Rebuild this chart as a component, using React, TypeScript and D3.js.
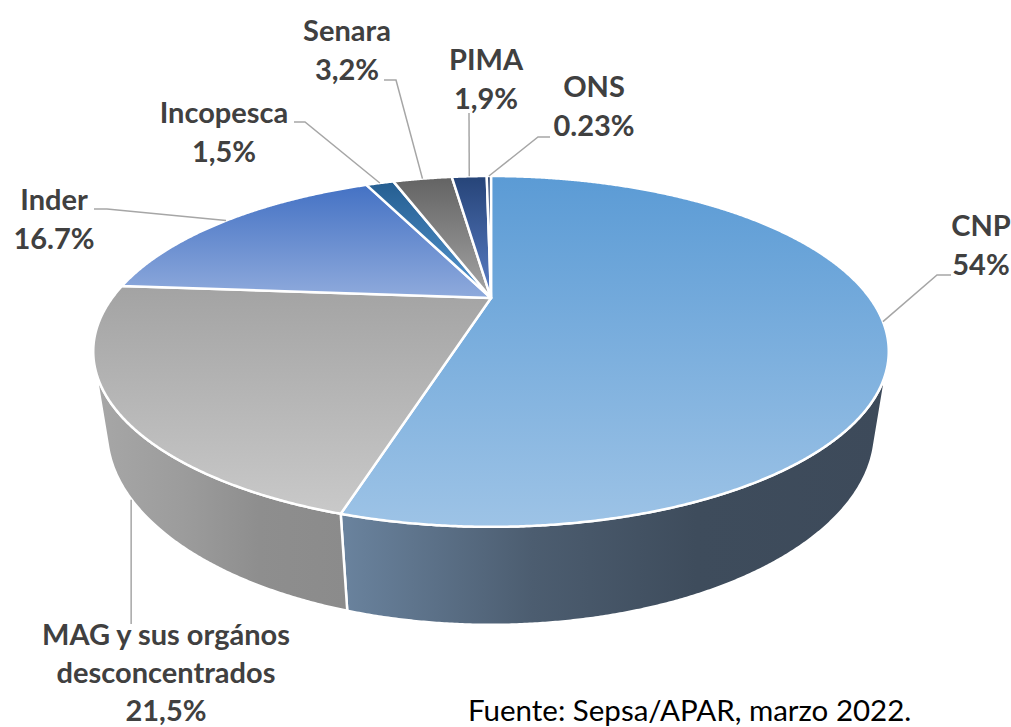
import React from "react";
import * as d3 from "d3";

// ---------- data ----------
const categories = ["CNP", "MAG", "Inder", "Incopesca", "Senara", "PIMA", "ONS"];
const values = [54, 21.5, 16.7, 1.5, 3.2, 1.9, 0.23];
const valueLabels = ["54%", "21,5%", "16.7%", "1,5%", "3,2%", "1,9%", "0.23%"];
const nameLines = [
  ["CNP"],
  ["MAG y sus orgános", "desconcentrados"],
  ["Inder"],
  ["Incopesca"],
  ["Senara"],
  ["PIMA"],
  ["ONS"],
];
const sourceNote = "Fuente: Sepsa/APAR, marzo 2022.";

// ---------- styles ----------
const topColors = [
  ["#5B9BD5", "#9DC3E6"],
  ["#A3A3A3", "#C9C9C9"],
  ["#4472C4", "#8FAADC"],
  ["#255E91", "#5596D0"],
  ["#636363", "#A5A5A5"],
  ["#264478", "#5A7EC6"],
  ["#1F3864", "#3A5A9A"],
];
const sideColors = [
  ["#6A839E", "#4C5D70", "#3E4C5C", "#3D4A5A"],
  ["#A7A7A7", "#9C9C9C", "#8E8E8E", "#8B8B8B"],
  ["#3A5FA0", "#3A5FA0", "#3A5FA0", "#3A5FA0"],
  ["#1F4E79", "#1F4E79", "#1F4E79", "#1F4E79"],
  ["#555555", "#555555", "#555555", "#555555"],
  ["#1F3864", "#1F3864", "#1F3864", "#1F3864"],
  ["#1F3864", "#1F3864", "#1F3864", "#1F3864"],
];
// label layout: centre x, first baseline, line gap, leader start/elbow, leader to bottom rim?
const labelLayout = [
  { x: 981, y: 236, gap: 39, lead: [[951, 275], [937, 275]], bottom: false },
  { x: 166, y: 645, gap: 38, lead: null, bottom: true },
  { x: 54, y: 210, gap: 39, lead: [[94, 209], [107, 209]], bottom: false },
  { x: 224, y: 123, gap: 39, lead: [[294, 122], [305, 122]], bottom: false },
  { x: 347, y: 41, gap: 39, lead: [[384, 80], [396, 80]], bottom: false },
  { x: 486, y: 70, gap: 39, lead: [[469, 113]], bottom: false },
  { x: 594, y: 97, gap: 39, lead: [[550, 137], [538, 137]], bottom: false },
];

const W = 1011;
const Hpx = 727;
const CX = 491;
const CY = 298;
const FOC = 1129;
const DIST = 2.98;
const SINT = 0.42;
const COST = Math.sqrt(1 - SINT * SINT);
const DEPTH = 0.229;

function proj(t: number, h: number): [number, number] {
  const u = Math.cos(t);
  const v = Math.sin(t);
  const z = DIST - v * COST - h * SINT;
  return [CX + (FOC * u) / z, CY + (FOC * (v * SINT - h * COST)) / z];
}
function arcPts(t0: number, t1: number, h: number): [number, number][] {
  const n = Math.max(2, Math.ceil(Math.abs(t1 - t0) / 0.005));
  const pts: [number, number][] = [];
  for (let i = 0; i <= n; i++) pts.push(proj(t0 + ((t1 - t0) * i) / n, h));
  return pts;
}

export default function App() {
  const pie = d3
    .pie<number>()
    .sort(null)
    .value((d) => d)
    .startAngle(0)
    .endAngle(2 * Math.PI);
  const arcs = pie(values);
  const toT = (a: number) => a - Math.PI / 2;
  const line = d3.line();

  const tv0 = Math.asin(1 / (DIST * COST));
  const tv1 = Math.PI - tv0;

  const center: [number, number] = [CX, CY];

  const sides: JSX.Element[] = [];
  const tops: JSX.Element[] = [];
  const defs: JSX.Element[] = [];
  const leaders: JSX.Element[] = [];
  const labels: JSX.Element[] = [];

  arcs.forEach((a, i) => {
    const t0 = toT(a.startAngle);
    const t1 = toT(a.endAngle);
    defs.push(
      <linearGradient key={"gt" + i} id={"gt" + i} x1="0" y1="0" x2="0" y2="1">
        <stop offset="0" stopColor={topColors[i][0]} />
        <stop offset="1" stopColor={topColors[i][1]} />
      </linearGradient>
    );
    const s0 = Math.max(t0, tv0);
    const s1 = Math.min(t1, tv1);
    if (s1 > s0) {
      defs.push(
        <linearGradient key={"gs" + i} id={"gs" + i} x1="0" y1="0" x2="1" y2="0">
          <stop offset="0" stopColor={sideColors[i][0]} />
          <stop offset="0.35" stopColor={sideColors[i][1]} />
          <stop offset="0.65" stopColor={sideColors[i][2]} />
          <stop offset="1" stopColor={sideColors[i][3]} />
        </linearGradient>
      );
      const pts = arcPts(s0, s1, 0).concat(arcPts(s1, s0, -DEPTH));
      sides.push(
        <path
          key={"s" + i}
          d={line(pts) + "Z"}
          fill={`url(#gs${i})`}
          stroke="#fff"
          strokeWidth={2.5}
          strokeLinejoin="round"
        />
      );
    }
    const tp = [center].concat(arcPts(t0, t1, 0));
    tops.push(
      <path
        key={"t" + i}
        d={line(tp) + "Z"}
        fill={`url(#gt${i})`}
        stroke="#fff"
        strokeWidth={2.5}
        strokeLinejoin="round"
      />
    );

    // labels
    const L = labelLayout[i];
    const tm = (t0 + t1) / 2;
    const rim = proj(tm, L.bottom ? -DEPTH : 0);
    let lpts: [number, number][];
    if (L.lead) lpts = (L.lead as [number, number][]).concat([rim]);
    else lpts = [[rim[0] + 3, 624], [rim[0] + 3, rim[1] + 5]];
    leaders.push(
      <path key={"l" + i} d={line(lpts) as string} fill="none" stroke="#A6A6A6" strokeWidth={1.5} />
    );
    const lines = nameLines[i].concat([valueLabels[i]]);
    labels.push(
      <text
        key={"x" + i}
        x={L.x}
        y={L.y}
        textAnchor="middle"
        fontFamily="Lato, 'Open Sans', sans-serif"
        fontWeight={700}
        fontSize={29}
        fill="#404040"
      >
        {lines.map((s, k) => (
          <tspan key={k} x={L.x} y={L.y + k * L.gap}>
            {s}
          </tspan>
        ))}
      </text>
    );
  });

  return (
    <svg
      width={W}
      height={Hpx}
      viewBox={`0 0 ${W} ${Hpx}`}
      style={{ position: "absolute", left: 0, top: 0, background: "#fff" }}
    >
      <defs>{defs}</defs>
      <rect x={0} y={0} width={W} height={Hpx} fill="#fff" />
      <g>{sides}</g>
      <g>{tops}</g>
      <g>{leaders}</g>
      <g>{labels}</g>
      <text x={468} y={721} fontFamily="Lato, 'Open Sans', sans-serif" fontSize={29.5} fill="#000">
        {sourceNote}
      </text>
    </svg>
  );
}
